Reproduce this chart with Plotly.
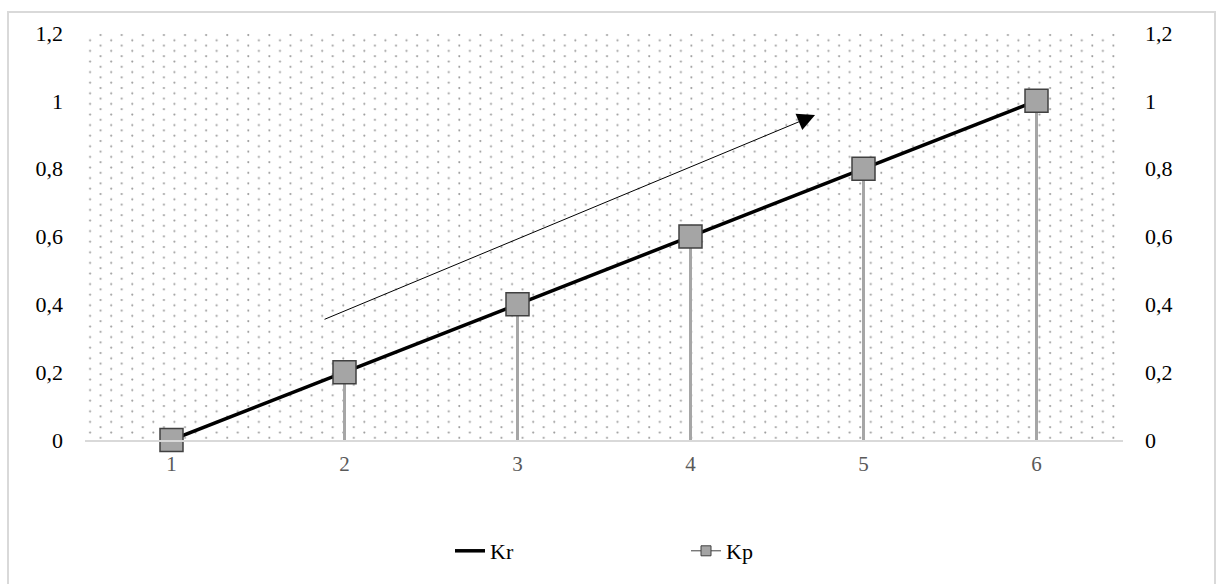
import base64
import plotly.graph_objects as go

# ---- data ----
categories = ["1", "2", "3", "4", "5", "6"]
kr_values = [0, 0.2, 0.4, 0.6, 0.8, 1.0]
kp_values = [0, 0.2, 0.4, 0.6, 0.8, 1.0]
y_tickvals = [0, 0.2, 0.4, 0.6, 0.8, 1.0, 1.2]
y_ticktext = ["0", "0,2", "0,4", "0,6", "0,8", "1", "1,2"]
series_names = ["Kr", "Kp"]
# arrow annotation (category index, value)
arrow_start = (0.876, 0.354)
arrow_end = (3.72, 0.958)

FONT = "Liberation Serif"
W, H = 1219, 584
L, R, T, B = 85, 96, 33, 144
PW, PH = W - L - R, H - T - B

# dotted background texture for the plot area (staggered dot lattice)
svg = (
    f"<svg xmlns='http://www.w3.org/2000/svg' width='{PW}' height='{PH}'>"
    "<defs><pattern id='p' x='0' y='0' width='21.1' height='10.6' patternUnits='userSpaceOnUse'>"
    "<circle cx='15.6' cy='2.0' r='1.05' fill='#9a9a9a'/>"
    "<circle cx='5.05' cy='7.3' r='1.05' fill='#9a9a9a'/>"
    "</pattern></defs>"
    f"<rect x='2' y='0' width='{PW - 7}' height='{PH - 1}' fill='url(#p)'/></svg>"
)
src = "data:image/svg+xml;base64," + base64.b64encode(svg.encode()).decode()

fig = go.Figure()

# drop lines for Kp
fig.add_trace(go.Scatter(
    x=categories, y=kp_values, mode="markers",
    marker=dict(size=1, color="rgba(0,0,0,0)"),
    error_y=dict(type="data", symmetric=False, array=[0] * len(kp_values),
                 arrayminus=kp_values, color="#a6a6a6", thickness=3, width=0),
    showlegend=False, hoverinfo="skip",
))

fig.add_trace(go.Scatter(
    x=categories, y=kr_values, mode="lines", name=series_names[0],
    line=dict(color="black", width=3.5), cliponaxis=False,
))

fig.add_trace(go.Scatter(
    x=categories, y=kp_values, mode="markers", name=series_names[1],
    cliponaxis=False, showlegend=False,
    marker=dict(symbol="square", size=23, color="#a5a5a5",
                line=dict(color="#404040", width=1.5)),
))

# legend-only entry for Kp with a small marker (as in the reference legend)
fig.add_trace(go.Scatter(
    x=[None], y=[None], mode="lines+markers", name=series_names[1],
    line=dict(color="#404040", width=1),
    marker=dict(symbol="square", size=10, color="#a5a5a5",
                line=dict(color="#404040", width=1)),
))

# invisible trace to force right axis
fig.add_trace(go.Scatter(
    x=categories, y=kp_values, yaxis="y2", mode="markers",
    marker=dict(size=1, color="rgba(0,0,0,0)"), showlegend=False, hoverinfo="skip",
))

fig.add_annotation(
    x=arrow_end[0], y=arrow_end[1], ax=arrow_start[0], ay=arrow_start[1],
    xref="x", yref="y", axref="x", ayref="y",
    showarrow=True, arrowhead=2, arrowsize=3.5, arrowwidth=1, arrowcolor="black",
    text="",
)

# outer frame
fig.add_shape(
    type="rect", xref="paper", yref="paper",
    x0=(8 - L) / PW, x1=(1215 - L) / PW,
    y0=-(B + 20) / PH, y1=1 + (T - 12) / PH,
    line=dict(color="#d9d9d9", width=2), fillcolor="rgba(0,0,0,0)", layer="below",
)

fig.update_layout(
    width=W, height=H,
    margin=dict(l=L, r=R, t=T, b=B),
    paper_bgcolor="white", plot_bgcolor="white",
    font=dict(family=FONT, size=22, color="black"),
    images=[dict(source=src, xref="paper", yref="paper", x=0, y=1,
                 sizex=1, sizey=1, sizing="stretch", xanchor="left",
                 yanchor="top", layer="below")],
    xaxis=dict(
        type="category", range=[-0.5, 5.5], showgrid=False, zeroline=False,
        showline=True, linecolor="#d9d9d9", linewidth=2,
        ticks="", tickfont=dict(family=FONT, size=21, color="#595959"),
        ticklabelstandoff=4,
    ),
    yaxis=dict(
        range=[0, 1.2], tickvals=y_tickvals, ticktext=y_ticktext,
        showgrid=False, zeroline=False, showline=False, ticks="",
        tickfont=dict(family=FONT, size=22, color="black"),
        ticklabelstandoff=21,
    ),
    yaxis2=dict(
        range=[0, 1.2], tickvals=y_tickvals, ticktext=y_ticktext,
        overlaying="y", side="right", showgrid=False, zeroline=False,
        showline=False, ticks="",
        tickfont=dict(family=FONT, size=22, color="black"),
        ticklabelstandoff=21,
    ),
    legend=dict(
        orientation="h", x=(450 - L) / PW, xanchor="left",
        y=-(551 - 440) / PH, yanchor="middle",
        font=dict(family=FONT, size=22, color="black"),
        entrywidth=191, entrywidthmode="pixels",
        bgcolor="rgba(0,0,0,0)",
    ),
    showlegend=True,
)

fig.write_html("out.html")
